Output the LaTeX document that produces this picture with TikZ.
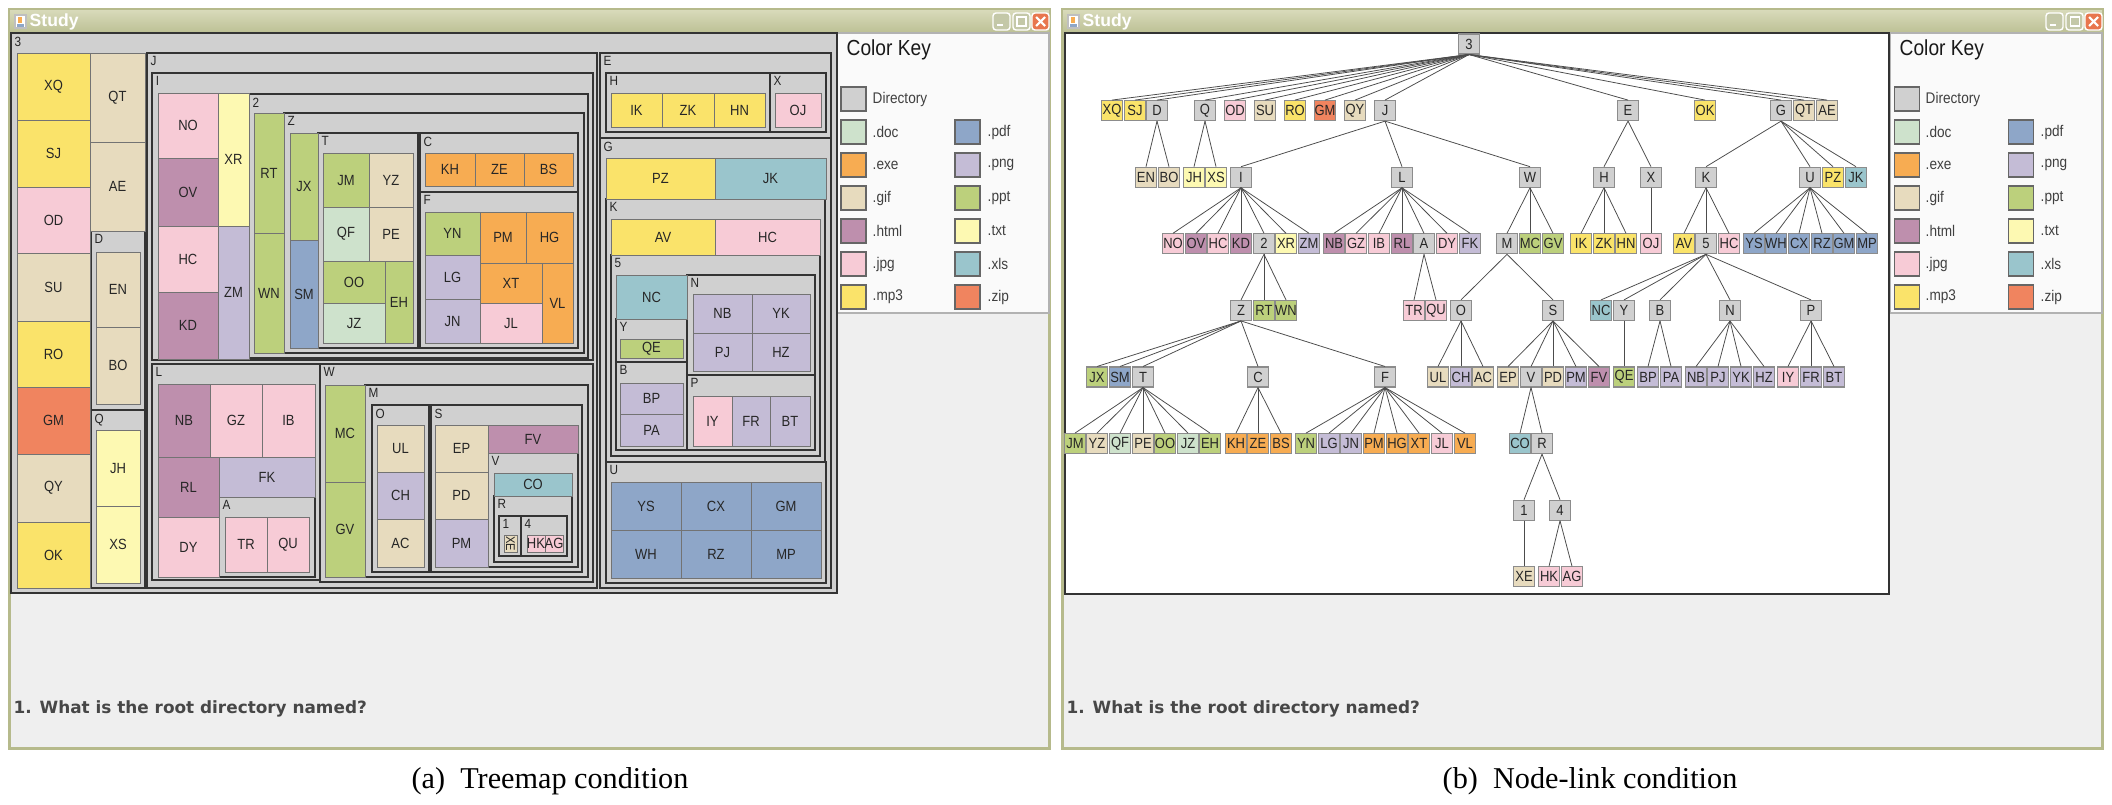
\documentclass[tikz,border=0pt]{standalone}
\usepackage{fontspec}
\setmainfont{Liberation Sans}
\newfontfamily\uifont{Liberation Sans}[FakeStretch=0.88]
\newfontfamily\quizfont{DejaVu Sans}
\newfontfamily\capfont{Liberation Serif}

\definecolor{cdir}{RGB}{208,208,208}
\definecolor{cdoc}{RGB}{206,226,204}
\definecolor{cexe}{RGB}{247,172,82}
\definecolor{cgif}{RGB}{231,219,190}
\definecolor{chtml}{RGB}{190,143,173}
\definecolor{cjpg}{RGB}{247,203,214}
\definecolor{cmp3}{RGB}{250,227,106}
\definecolor{cpdf}{RGB}{142,166,200}
\definecolor{cpng}{RGB}{196,188,214}
\definecolor{cppt}{RGB}{188,208,124}
\definecolor{ctxt}{RGB}{253,249,178}
\definecolor{cxls}{RGB}{154,197,204}
\definecolor{czip}{RGB}{240,132,95}
\definecolor{winbg}{RGB}{239,239,239}
\definecolor{winedge}{RGB}{182,186,140}
\definecolor{bartop}{RGB}{216,218,186}
\definecolor{barbot}{RGB}{188,192,148}
\definecolor{closebtn}{RGB}{232,118,78}
\definecolor{sizebtn}{RGB}{196,200,168}

\begin{document}
\begin{tikzpicture}[x=0.1mm,y=-0.1mm,
    tmdir/.style={fill=cdir, draw=black!80, line width=0.4pt},
    tmfile/.style={draw=black!55, line width=0.28pt},
    tmtext/.style={font=\uifont\fontsize{4.2}{5}\selectfont, text=black!85, inner sep=0pt},
    dirtext/.style={font=\uifont\fontsize{3.8}{4}\selectfont, text=black!85, inner sep=0pt, anchor=north west},
    nlbox/.style={draw=black!45, line width=0.3pt, minimum width=2.05mm, minimum height=2mm,
      inner sep=0pt, font=\uifont\fontsize{4.2}{5}\selectfont, text=black!85},
    nledge/.style={draw=black!70, line width=0.22pt},
    keyswatch/.style={draw=black!60, line width=0.3pt},
    keytext/.style={font=\uifont\fontsize{4.4}{5}\selectfont, text=black!75, anchor=west, inner sep=0pt},
    keyhead/.style={font=\uifont\fontsize{6.2}{7}\selectfont, text=black!90, anchor=west, inner sep=0pt},
    quiz/.style={font=\quizfont\bfseries\fontsize{4.8}{6}\selectfont, text=black!72, anchor=west, inner sep=0pt},
    wintitle/.style={font=\bfseries\fontsize{5}{6}\selectfont, text=white, anchor=west, inner sep=0pt},
    caption/.style={font=\capfont\fontsize{8.6}{10}\selectfont, inner sep=0pt}]
  \useasboundingbox (0,0) rectangle (2112,804);
  \fill[white] (0,0) rectangle (2112,804);

  % the two windows
  \foreach \dx in {0,1053} {
    \begin{scope}[shift={(\dx,0)}]
      \fill[winedge] (8,8) rectangle (1051,750);
      \shade[top color=bartop, bottom color=barbot] (10,10) rectangle (1049,33);
      \fill[winbg] (11,33) rectangle (1048,747);
      \filldraw[fill=white, draw=black!25] (15,15) rectangle (26,28);
      \fill[cpdf] (17,24) rectangle (24,27);
      \fill[cexe] (18,17) rectangle (22,23);
      \node[wintitle] (title\dx) at (29,22) {Study};
      \filldraw[fill=sizebtn, draw=white, rounded corners=0.3mm] (993,13) rectangle (1010,30);
      \fill[white] (997,24) rectangle (1003,26);
      \filldraw[fill=sizebtn, draw=white, rounded corners=0.3mm] (1013,13) rectangle (1030,30);
      \draw[white, line width=0.3pt] (1017,17) rectangle (1026,26);
      \filldraw[fill=closebtn, draw=white, rounded corners=0.3mm] (1032,13) rectangle (1049,30);
      \draw[white, line width=0.6pt] (1036,17) -- (1045,26) (1045,17) -- (1036,26);
      % colour key
      \filldraw[fill=white!98!black, draw=black!30] (837,33) rectangle (1049,313);
      \node[keyhead] (keyhead\dx) at (846,50) {Color Key};
      \foreach \col/\row/\c/\t [count=\k] in {0/0/cdir/Directory,0/1/cdoc/.doc,0/2/cexe/.exe,
          0/3/cgif/.gif,0/4/chtml/.html,0/5/cjpg/.jpg,0/6/cmp3/.mp3,1/1/cpdf/.pdf,1/2/cpng/.png,
          1/3/cppt/.ppt,1/4/ctxt/.txt,1/5/cxls/.xls,1/6/czip/.zip} {
        \filldraw[keyswatch, fill=\c] ({841+114*\col},{87+33*\row}) rectangle +(25,24);
        \node[keytext] (key\dx-\k) at ({872+115*\col},{99+33*\row}) {\t};
      }
      \node[quiz] (quiz\dx) at (13,709) {1. What is the root directory named?};
    \end{scope}
  }

  % treemap: directories
  \foreach \xa/\ya/\xb/\yb/\t [count=\i] in {11/33/837/593/3, 91/231/145/410/D, 91/410/145/588/Q,
      147/53/597/588/J, 152/73/593/360/I, 249/94/588/358/2, 284/113/584/353/Z,
      318/133/418/348/T, 420/133/578/192/C, 420/192/578/348/F, 152/364/320/580/L,
      219/497/315/577/A, 320/364/593/582/W, 365/385/588/577/M, 372/405/429/572/O,
      431/405/582/572/S, 488/453/578/567/V, 494/496/572/562/R, 499/516/521/556/1,
      521/516/567/556/4, 600/53/831/138/E, 606/73/770/132/H, 770/73/826/132/X,
      600/138/831/588/G, 606/199/825/462/K, 611/255/820/456/5, 616/319/687/362/Y,
      616/362/687/450/B, 687/275/815/375/N, 687/375/815/450/P, 606/462/826/583/U} {
    \filldraw[tmdir] (\xa,\ya) rectangle (\xb,\yb);
    \node[dirtext] (tmd\i) at ({\xa+3},{\ya+3}) {\t};
  }

  % treemap: files
  \foreach \xa/\ya/\xb/\yb/\c/\t [count=\i] in {17/53/90/120/cmp3/XQ, 17/120/90/187/cmp3/SJ,
      17/187/90/253/cjpg/OD, 17/253/90/321/cgif/SU, 17/321/90/387/cmp3/RO, 17/387/90/454/czip/GM,
      17/454/90/522/cgif/QY, 17/522/90/588/cmp3/OK, 90/53/145/142/cgif/QT, 90/142/145/231/cgif/AE,
      96/252/140/327/cgif/EN, 96/327/140/404/cgif/BO, 96/430/140/506/ctxt/JH, 96/506/140/583/ctxt/XS,
      158/93/218/158/cjpg/NO, 158/158/218/226/chtml/OV, 158/226/218/292/cjpg/HC,
      158/292/218/359/chtml/KD, 218/93/249/226/ctxt/XR, 218/226/249/359/cpng/ZM,
      254/113/284/233/cppt/RT, 254/233/284/353/cppt/WN, 290/133/318/240/cppt/JX,
      290/240/318/348/cpdf/SM, 323/153/369/207/cppt/JM, 369/153/413/207/cgif/YZ,
      323/207/369/261/cdoc/QF, 369/207/413/261/cgif/PE, 323/261/385/303/cppt/OO,
      323/303/385/343/cdoc/JZ, 385/261/413/343/cppt/EH, 425/153/475/186/cexe/KH,
      475/153/524/186/cexe/ZE, 524/153/573/186/cexe/BS, 425/212/480/255/cppt/YN,
      425/255/480/299/cpng/LG, 425/299/480/343/cpng/JN, 480/212/526/263/cexe/PM,
      526/212/573/263/cexe/HG, 480/263/542/303/cexe/XT, 480/303/542/343/cjpg/JL,
      542/263/573/343/cexe/VL, 158/384/210/457/chtml/NB, 210/384/262/457/cjpg/GZ,
      262/384/315/457/cjpg/IB, 158/457/219/517/chtml/RL, 219/457/315/497/cpng/FK,
      158/517/219/577/cjpg/DY, 225/517/267/572/cjpg/TR, 267/517/309/572/cjpg/QU,
      325/385/365/482/cppt/MC, 325/482/365/577/cppt/GV, 377/425/424/472/cgif/UL,
      377/472/424/519/cpng/CH, 377/519/424/567/cgif/AC, 435/425/488/472/cgif/EP,
      435/472/488/519/cgif/PD, 435/519/488/567/cpng/PM, 488/425/578/453/chtml/FV,
      494/473/572/496/cxls/CO, 527/535/545/552/cjpg/HK, 545/535/563/552/cjpg/AG,
      611/93/662/127/cmp3/IK, 662/93/714/127/cmp3/ZK, 714/93/765/127/cmp3/HN,
      775/93/821/127/cjpg/OJ, 606/158/715/199/cmp3/PZ, 715/158/826/199/cxls/JK,
      611/219/715/255/cmp3/AV, 715/219/820/255/cjpg/HC, 616/275/687/319/cxls/NC,
      620/339/683/358/cppt/QE, 620/383/683/414/cpng/BP, 620/414/683/446/cpng/PA,
      693/294/752/333/cpng/NB, 752/294/810/333/cpng/YK, 693/333/752/371/cpng/PJ,
      752/333/810/371/cpng/HZ, 693/396/732/446/cjpg/IY, 732/396/770/446/cpng/FR,
      770/396/810/446/cpng/BT, 611/482/681/530/cpdf/YS, 681/482/751/530/cpdf/CX,
      751/482/821/530/cpdf/GM, 611/530/681/578/cpdf/WH, 681/530/751/578/cpdf/RZ,
      751/530/821/578/cpdf/MP} {
    \filldraw[tmfile, fill=\c] (\xa,\ya) rectangle (\xb,\yb);
    \node[tmtext] (tmf\i) at ({(\xa+\xb)/2},{(\ya+\yb)/2}) {\t};
  }
  \filldraw[tmfile, fill=cgif] (504,535) rectangle (517,552);
  \node[tmtext, font=\uifont\fontsize{3.6}{4}\selectfont, rotate=-90] (tmxe) at (510.5,543.5) {XE};

  % node-link panel
  \filldraw[fill=white, draw=black!80, line width=0.4pt] (1065,33) rectangle (1889,594);
  \foreach \nm/\t/\x/\lv/\c in {n3/3/1469/0/cdir,
      nXQ/XQ/1112/1/cmp3, nSJ/SJ/1135/1/cmp3, nD/D/1157/1/cdir, nQ/Q/1205/1/cdir,
      nOD/OD/1235/1/cjpg, nSU/SU/1265/1/cgif, nRO/RO/1295/1/cmp3, nGM/GM/1325/1/czip,
      nQY/QY/1355/1/cgif, nJ/J/1385/1/cdir, nE/E/1628/1/cdir, nOK/OK/1705/1/cmp3,
      nG/G/1781/1/cdir, nQT/QT/1804/1/cgif, nAE/AE/1827/1/cgif,
      nEN/EN/1146/2/cgif, nBO/BO/1169/2/cgif, nJH/JH/1194/2/ctxt, nXS/XS/1216/2/ctxt,
      nI/I/1241/2/cdir, nL/L/1402/2/cdir, nW/W/1530/2/cdir, nH/H/1604/2/cdir,
      nX/X/1651/2/cdir, nK/K/1706/2/cdir, nU/U/1810/2/cdir, nPZ/PZ/1833/2/cmp3,
      nJK/JK/1856/2/cxls,
      nNO/NO/1173/3/cjpg, nOV/OV/1196/3/chtml, nHCa/HC/1218/3/cjpg, nKD/KD/1241/3/chtml,
      n2/2/1264/3/cdir, nXR/XR/1286/3/ctxt, nZM/ZM/1309/3/cpng, nNBa/NB/1334/3/chtml,
      nGZ/GZ/1356/3/cjpg, nIB/IB/1379/3/cjpg, nRL/RL/1402/3/chtml, nA/A/1424/3/cdir,
      nDY/DY/1447/3/cjpg, nFK/FK/1470/3/cpng, nM/M/1507/3/cdir, nMC/MC/1530/3/cppt,
      nGV/GV/1553/3/cppt, nIK/IK/1581/3/cmp3, nZK/ZK/1604/3/cmp3, nHN/HN/1626/3/cmp3,
      nOJ/OJ/1651/3/cjpg, nAV/AV/1684/3/cmp3, n5/5/1706/3/cdir, nHCb/HC/1729/3/cjpg,
      nYS/YS/1754/3/cpdf, nWH/WH/1776/3/cpdf, nCX/CX/1799/3/cpdf, nRZ/RZ/1822/3/cpdf,
      nGMb/GM/1844/3/cpdf, nMP/MP/1867/3/cpdf,
      nZ/Z/1241/4/cdir, nRT/RT/1264/4/cppt, nWN/WN/1286/4/cppt, nTR/TR/1414/4/cjpg,
      nQU/QU/1436/4/cjpg, nO/O/1461/4/cdir, nS/S/1553/4/cdir, nNC/NC/1601/4/cxls,
      nY/Y/1624/4/cdir, nB/B/1660/4/cdir, nN/N/1730/4/cdir, nP/P/1811/4/cdir,
      nJX/JX/1097/5/cppt, nSM/SM/1120/5/cpdf, nT/T/1143/5/cdir, nC/C/1258/5/cdir,
      nF/F/1385/5/cdir, nUL/UL/1438/5/cgif, nCH/CH/1461/5/cpng, nAC/AC/1483/5/cgif,
      nEP/EP/1508/5/cgif, nV/V/1531/5/cdir, nPD/PD/1553/5/cgif, nPMb/PM/1576/5/cpng,
      nFV/FV/1599/5/chtml, nQE/QE/1624/5/cppt, nBP/BP/1648/5/cpng, nPA/PA/1671/5/cpng,
      nNBb/NB/1696/5/cpng, nPJ/PJ/1718/5/cpng, nYK/YK/1741/5/cpng, nHZ/HZ/1764/5/cpng,
      nIY/IY/1788/5/cjpg, nFR/FR/1811/5/cpng, nBT/BT/1834/5/cpng,
      nJM/JM/1075/6/cppt, nYZ/YZ/1097/6/cgif, nQF/QF/1120/6/cdoc, nPE/PE/1143/6/cgif,
      nOO/OO/1165/6/cppt, nJZ/JZ/1188/6/cdoc, nEH/EH/1210/6/cppt, nKH/KH/1236/6/cexe,
      nZE/ZE/1258/6/cexe, nBS/BS/1281/6/cexe, nYN/YN/1306/6/cppt, nLG/LG/1329/6/cpng,
      nJN/JN/1351/6/cpng, nPMa/PM/1374/6/cexe, nHG/HG/1397/6/cexe, nXT/XT/1419/6/cexe,
      nJL/JL/1442/6/cjpg, nVL/VL/1465/6/cexe, nCO/CO/1520/6/cxls, nR/R/1542/6/cdir,
      n1/1/1524/7/cdir, n4/4/1560/7/cdir,
      nXE/XE/1524/8/cgif, nHK/HK/1549/8/cjpg, nAG/AG/1572/8/cjpg}
    \node[nlbox, fill=\c] (\nm) at (\x,{44+66.6*\lv}) {\t};

  \foreach \p/\kids in {n3/{nXQ,nSJ,nD,nQ,nOD,nSU,nRO,nGM,nQY,nJ,nE,nOK,nG,nQT,nAE},
      nD/{nEN,nBO}, nQ/{nJH,nXS}, nJ/{nI,nL,nW}, nE/{nH,nX}, nG/{nK,nU,nPZ,nJK},
      nI/{nNO,nOV,nHCa,nKD,n2,nXR,nZM}, nL/{nNBa,nGZ,nIB,nRL,nA,nDY,nFK}, nW/{nM,nMC,nGV},
      nH/{nIK,nZK,nHN}, nX/{nOJ}, nK/{nAV,n5,nHCb}, nU/{nYS,nWH,nCX,nRZ,nGMb,nMP},
      n2/{nZ,nRT,nWN}, nA/{nTR,nQU}, nM/{nO,nS}, n5/{nNC,nY,nB,nN,nP},
      nZ/{nJX,nSM,nT,nC,nF}, nO/{nUL,nCH,nAC}, nS/{nEP,nV,nPD,nPMb,nFV}, nY/{nQE},
      nB/{nBP,nPA}, nN/{nNBb,nPJ,nYK,nHZ}, nP/{nIY,nFR,nBT},
      nT/{nJM,nYZ,nQF,nPE,nOO,nJZ,nEH}, nC/{nKH,nZE,nBS},
      nF/{nYN,nLG,nJN,nPMa,nHG,nXT,nJL,nVL}, nV/{nCO,nR}, nR/{n1,n4}, n1/{nXE}, n4/{nHK,nAG}}
    \foreach \c in \kids \draw[nledge] (\p.south) -- (\c.north);

  % captions
  \node[caption] (capa) at (550,781) {(a)\enspace Treemap condition};
  \node[caption] (capb) at (1590,781) {(b)\enspace Node-link condition};
\end{tikzpicture}
\end{document}
